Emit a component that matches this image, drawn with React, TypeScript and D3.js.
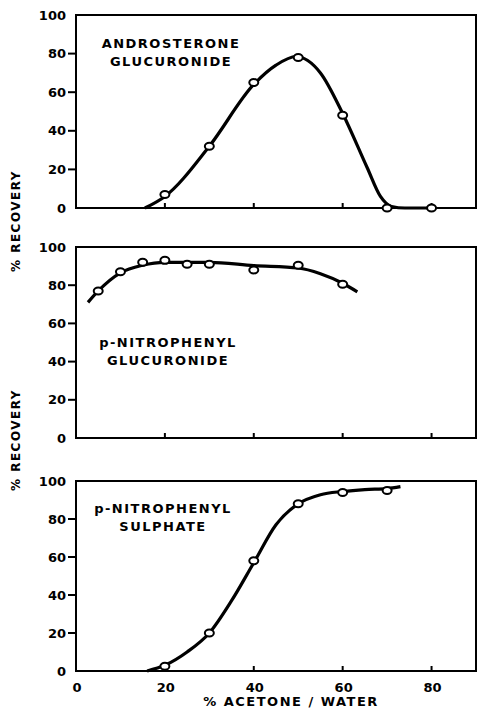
import React from 'react';
import * as d3 from 'd3';

// % acetone/water tick values and y tick values
const xTicks = [0, 20, 40, 60, 80];
const yTicks = [0, 20, 40, 60, 80, 100];

// Androsterone glucuronide
const androPoints: [number, number][] = [[20, 7], [30, 32], [40, 65], [50, 78], [60, 48], [70, 0], [80, 0]];
const androCurve: [number, number][] = [
  [15.5, 0], [20, 6], [30, 32], [40, 64], [45, 74], [49.5, 78.5],
  [55, 70], [60, 49], [65.5, 21], [68.5, 6], [71, 0.8], [74, 0], [80, 0],
];

// p-Nitrophenyl glucuronide
const glucPoints: [number, number][] = [[5, 77], [10, 87], [15, 92], [20, 93], [25, 91], [30, 91], [40, 88], [50, 90.5], [60, 80.5]];
const glucCurve: [number, number][] = [
  [2.7, 71], [5, 77], [10, 86.5], [15, 90.5], [20, 92], [30, 92], [40, 90.3], [50, 89], [55, 86], [60, 81], [63.3, 76.5],
];

// p-Nitrophenyl sulphate
const sulphPoints: [number, number][] = [[20, 2.5], [30, 20], [40, 58], [50, 88], [60, 94], [70, 95]];
const sulphCurve: [number, number][] = [
  [16, 0], [20, 3], [25, 10], [30, 20], [35, 37], [40, 57], [45, 77], [50, 88],
  [55, 92.8], [60, 94.5], [65, 95.5], [70, 96], [73, 97],
];

const FONT = "'DejaVu Sans', sans-serif";

const x = d3.scaleLinear().domain([0, 90]).range([76, 476]);

type PanelProps = {
  top: number;
  bottom: number;
  points: [number, number][];
  curve: [number, number][];
  label: string[];
  labelX: number;
  labelY: number;
  showX: boolean;
};

function Panel({ top, bottom, points, curve, label, labelX, labelY, showX }: PanelProps) {
  const y = d3.scaleLinear().domain([0, 100]).range([bottom, top]);
  const line = d3.line<[number, number]>()
    .x(d => x(d[0]))
    .y(d => y(d[1]))
    .curve(d3.curveMonotoneX);
  return (
    <g>
      <rect x={x(0)} y={top} width={x(90) - x(0)} height={bottom - top} fill="none" stroke="#000" strokeWidth={2} />
      {yTicks.map(t => (
        <g key={t}>
          {t > 0 && t < 100 && <line x1={x(0) - 8} x2={x(0)} y1={y(t)} y2={y(t)} stroke="#000" strokeWidth={2} />}
          <text x={66} y={y(t)} dy="0.36em" textAnchor="end" fontFamily={FONT} fontWeight="bold" fontSize={13}>{t}</text>
        </g>
      ))}
      {xTicks.filter(t => t > 0).map(t => (
        <line key={t} x1={x(t)} x2={x(t)} y1={bottom} y2={bottom - 5} stroke="#000" strokeWidth={2} />
      ))}
      {showX && xTicks.map(t => (
        <text key={t} x={x(t) + 1} y={bottom + 21} textAnchor="middle" fontFamily={FONT} fontWeight="bold" fontSize={13}>{t}</text>
      ))}
      <path d={line(curve) || ''} fill="none" stroke="#000" strokeWidth={3.2} strokeLinejoin="round" />
      {points.map((p, i) => (
        <ellipse key={i} cx={x(p[0])} cy={y(p[1])} rx={4.5} ry={3.5} fill="#fff" stroke="#000" strokeWidth={2} />
      ))}
      {label.map((s, i) => (
        <text key={i} x={labelX} y={labelY + i * 18} textAnchor="middle" fontFamily={FONT} fontWeight="bold" fontSize={13} letterSpacing={1.5}>{s}</text>
      ))}
    </g>
  );
}

export default function App() {
  return (
    <svg width={481} height={712} style={{ position: 'absolute', left: 0, top: 0, background: '#fff' }}>
      <Panel top={15} bottom={208} points={androPoints} curve={androCurve}
        label={['ANDROSTERONE', 'GLUCURONIDE']} labelX={171} labelY={48} showX={false} />
      <Panel top={247} bottom={438} points={glucPoints} curve={glucCurve}
        label={['p-NITROPHENYL', 'GLUCURONIDE']} labelX={168} labelY={347} showX={false} />
      <Panel top={481} bottom={671} points={sulphPoints} curve={sulphCurve}
        label={['p-NITROPHENYL', 'SULPHATE']} labelX={163} labelY={513} showX={true} />
      {[221, 440].map(cy => (
        <text key={cy} transform={`translate(20,${cy}) rotate(-90)`} textAnchor="middle"
          fontFamily={FONT} fontWeight="bold" fontSize={12} letterSpacing={1.5}>% RECOVERY</text>
      ))}
      <text x={291} y={706} textAnchor="middle" fontFamily={FONT} fontWeight="bold" fontSize={13} letterSpacing={1.5}>% ACETONE / WATER</text>
    </svg>
  );
}
